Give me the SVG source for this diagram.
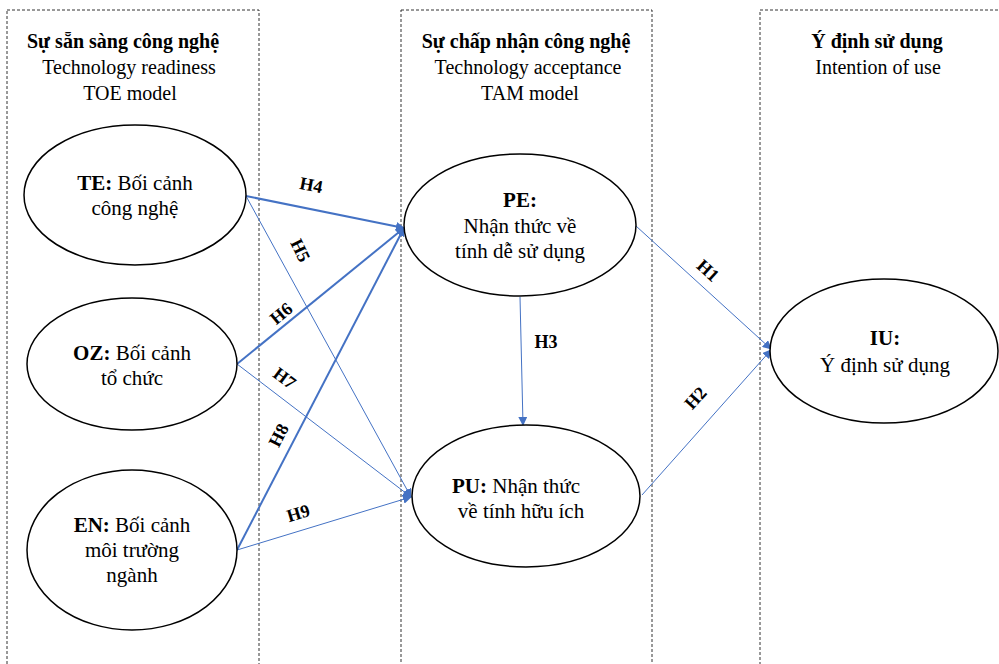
<svg xmlns="http://www.w3.org/2000/svg" width="999" height="664" viewBox="0 0 999 664">
<style>
.box{fill:none;stroke:#333;stroke-width:1;stroke-dasharray:3 2}
.node{fill:#fff;stroke:#000;stroke-width:1.5}
.t{font-family:"Liberation Serif","Times New Roman",serif;font-size:21px;fill:#000;text-anchor:middle}
.h{font-family:"Liberation Serif","Times New Roman",serif;font-size:20px;fill:#000;text-anchor:middle}
.b{font-weight:bold}
.lbl{font-family:"Liberation Serif","Times New Roman",serif;font-size:18px;font-weight:bold;fill:#000;text-anchor:middle}
.c{fill:none;stroke:#4472C4;stroke-width:1;marker-end:url(#ah)}
.k{stroke-width:2}
</style>
<defs>
<marker id="ah" viewBox="0 0 10 10" refX="9" refY="5" markerWidth="9" markerHeight="9" markerUnits="userSpaceOnUse" orient="auto">
<path d="M0,0 L10,5 L0,10 z" fill="#4472C4"/>
</marker>
<marker id="ah2" viewBox="0 0 10 10" refX="9" refY="5" markerWidth="5" markerHeight="5" orient="auto">
<path d="M0,0 L10,5 L0,10 z" fill="#4472C4"/>
</marker>
</defs>
<rect width="999" height="664" fill="#fff"/>
<g id="panels">
<rect class="box" x="7" y="10" width="252" height="680"/>
<rect class="box" x="401" y="10" width="251" height="680"/>
<rect class="box" x="760" y="10" width="260" height="680"/>
<text class="h b" x="123" y="48">Sự sẵn sàng công nghệ</text>
<text class="h" x="129" y="74">Technology readiness</text>
<text class="h" x="130" y="100">TOE model</text>
<text class="h b" x="526" y="48">Sự chấp nhận công nghệ</text>
<text class="h" x="528" y="74">Technology acceptance</text>
<text class="h" x="530" y="100">TAM model</text>
<text class="h b" x="877" y="48">Ý định sử dụng</text>
<text class="h" x="878" y="74">Intention of use</text>
</g>
<g id="connectors">
<line class="c k" x1="246" y1="196" x2="404" y2="228" marker-end="url(#ah2)"/>
<line class="c" x1="246" y1="196" x2="411" y2="497"/>
<line class="c k" x1="237" y1="364" x2="404" y2="228" marker-end="url(#ah2)"/>
<line class="c" x1="237" y1="364" x2="411" y2="497"/>
<line class="c k" x1="237" y1="550" x2="404" y2="228" marker-end="url(#ah2)"/>
<line class="c" x1="237" y1="550" x2="411" y2="497"/>
<line class="c" x1="520" y1="297" x2="523" y2="425"/>
<line class="c" x1="636" y1="226" x2="771" y2="349"/>
<line class="c" x1="642" y1="495" x2="771" y2="350"/>
<text class="lbl" transform="translate(310,191) rotate(11)">H4</text>
<text class="lbl" transform="translate(295,253) rotate(64)">H5</text>
<text class="lbl" transform="translate(285,318) rotate(-40)">H6</text>
<text class="lbl" transform="translate(281,383) rotate(37)">H7</text>
<text class="lbl" transform="translate(284,438) rotate(-63)">H8</text>
<text class="lbl" transform="translate(300,519) rotate(-17)">H9</text>
<text class="lbl" x="546" y="348">H3</text>
<text class="lbl" transform="translate(704,275) rotate(42)">H1</text>
<text class="lbl" transform="translate(700,402) rotate(-48)">H2</text>
</g>
<g id="TE">
<ellipse class="node" cx="135" cy="195" rx="111" ry="70"/>
<text class="t" x="135" y="190"><tspan class="b">TE:</tspan> Bối cảnh</text>
<text class="t" x="135" y="215">công nghệ</text>
</g>
<g id="OZ">
<ellipse class="node" cx="132" cy="364" rx="105" ry="66"/>
<text class="t" x="132" y="360"><tspan class="b">OZ:</tspan> Bối cảnh</text>
<text class="t" x="132" y="385">tổ chức</text>
</g>
<g id="EN">
<ellipse class="node" cx="132" cy="550" rx="105" ry="80"/>
<text class="t" x="132" y="532"><tspan class="b">EN:</tspan> Bối cảnh</text>
<text class="t" x="132" y="557">môi trường</text>
<text class="t" x="132" y="582">ngành</text>
</g>
<g id="PE">
<ellipse class="node" cx="520" cy="225" rx="116" ry="71"/>
<text class="t b" x="520" y="207">PE:</text>
<text class="t" x="520" y="233">Nhận thức về</text>
<text class="t" x="520" y="258">tính dễ sử dụng</text>
</g>
<g id="PU">
<ellipse class="node" cx="526" cy="496" rx="114" ry="71"/>
<text class="t" x="516" y="493"><tspan class="b">PU:</tspan> Nhận thức</text>
<text class="t" x="521" y="518">về tính hữu ích</text>
</g>
<g id="IU">
<ellipse class="node" cx="884" cy="351" rx="114" ry="72"/>
<text class="t b" x="885" y="345">IU:</text>
<text class="t" x="885" y="372">Ý định sử dụng</text>
</g>
</svg>
